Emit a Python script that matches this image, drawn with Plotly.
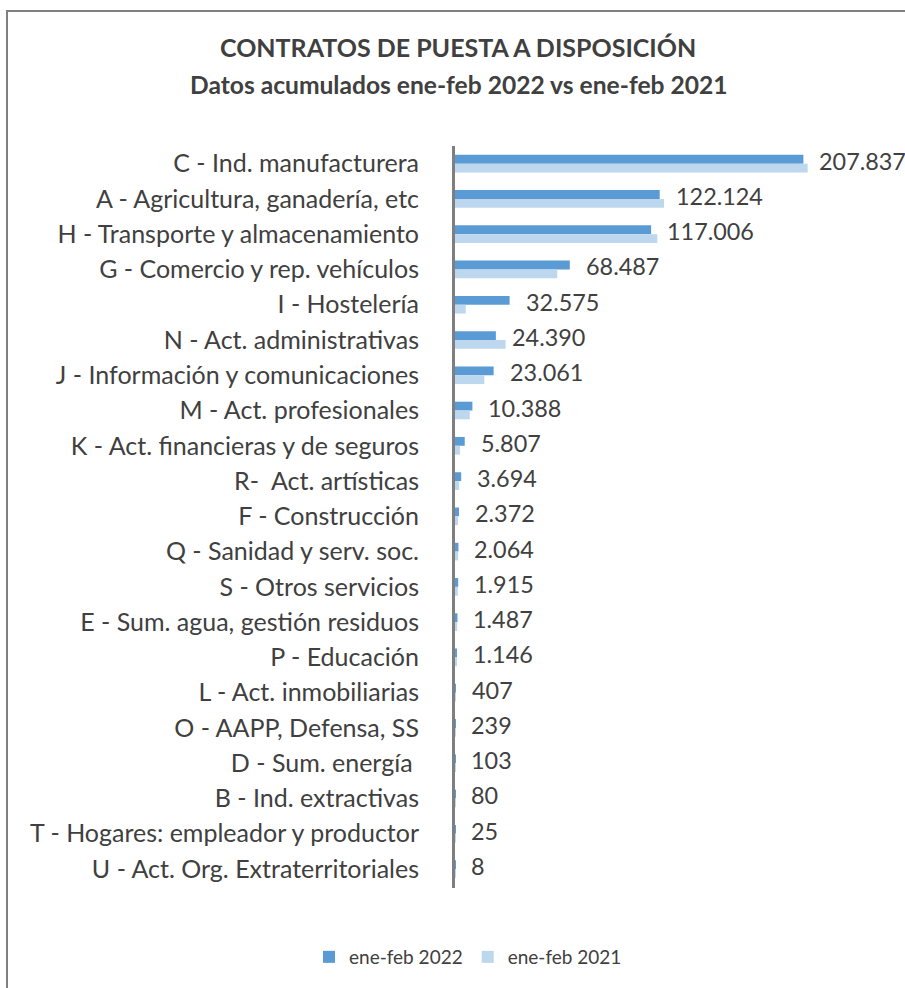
import plotly.graph_objects as go

categories = [
    "C - Ind. manufacturera",
    "A - Agricultura, ganadería, etc",
    "H - Transporte y almacenamiento",
    "G - Comercio y rep. vehículos",
    "I - Hostelería",
    "N - Act. administrativas",
    "J - Información y comunicaciones",
    "M - Act. profesionales",
    "K - Act. financieras y de seguros",
    "R-  Act. artísticas",
    "F - Construcción",
    "Q - Sanidad y serv. soc.",
    "S - Otros servicios",
    "E - Sum. agua, gestión residuos",
    "P - Educación",
    "L - Act. inmobiliarias",
    "O - AAPP, Defensa, SS",
    "D - Sum. energía ",
    "B - Ind. extractivas",
    "T - Hogares: empleador y productor",
    "U - Act. Org. Extraterritoriales",
]
values_2022 = [207837, 122124, 117006, 68487, 32575, 24390, 23061, 10388, 5807, 3694,
               2372, 2064, 1915, 1487, 1146, 407, 239, 103, 80, 25, 8]
values_2021 = [210400, 124700, 120700, 61000, 6400, 30200, 17500, 8800, 3000, 2500,
               1800, 1900, 1700, 1300, 900, 300, 200, 90, 70, 30, 5]

series_names = ["ene-feb 2022", "ene-feb 2021"]
colors = ["#5B9BD5", "#BDD7EE"]
FONT = "Lato"
TXT = "#404040"

fig = go.Figure()
fig.add_trace(go.Bar(y=categories, x=values_2022, orientation="h", name=series_names[0],
                     marker=dict(color=colors[0], line=dict(width=0))))
fig.add_trace(go.Bar(y=categories, x=values_2021, orientation="h", name=series_names[1],
                     marker=dict(color=colors[1], line=dict(width=0))))

def fmt(v):
    return f"{v:,}".replace(",", ".")

for c, v in zip(categories, values_2022):
    fig.add_annotation(x=v, y=c, xref="x", yref="y", text=fmt(v), showarrow=False,
                       xanchor="left", yanchor="middle", xshift=14, yshift=3,
                       font=dict(family=FONT, size=23.4, color=TXT))

W, H = 905, 988
L, R, T, B = 455, 10, 146, 100
pw, ph = W - L - R, H - T - B

def px_x(p):
    return (p - L) / pw

def px_y(p):
    return (H - B - p) / ph

fig.add_annotation(x=px_x(458), y=px_y(47), xref="paper", yref="paper",
                   text="<b>CONTRATOS DE PUESTA A DISPOSICIÓN</b>", showarrow=False,
                   xanchor="center", yanchor="middle",
                   font=dict(family=FONT, size=25, color=TXT))
fig.add_annotation(x=px_x(459), y=px_y(84), xref="paper", yref="paper",
                   text="<b>Datos acumulados ene-feb 2022 vs ene-feb 2021</b>", showarrow=False,
                   xanchor="center", yanchor="middle",
                   font=dict(family=FONT, size=24.6, color=TXT))

fig.add_shape(type="rect", xref="paper", yref="paper",
              x0=px_x(7), x1=px_x(960), y0=px_y(1040), y1=px_y(11),
              line=dict(color="#7F7F7F", width=2), fillcolor="rgba(0,0,0,0)", layer="below")

fig.update_layout(
    width=W, height=H,
    margin=dict(l=L, r=R, t=T, b=B, autoexpand=False),
    paper_bgcolor="white", plot_bgcolor="white",
    barmode="group", bargap=0.5, bargroupgap=0,
    font=dict(family=FONT, size=25, color=TXT),
    showlegend=True,
    legend=dict(orientation="h", x=px_x(468), y=px_y(957), xanchor="center", yanchor="middle",
                font=dict(family=FONT, size=19, color=TXT), traceorder="normal",
                itemwidth=30),
)
fig.update_xaxes(range=[0, 262500], visible=False, showgrid=False, zeroline=False, fixedrange=True)
fig.update_yaxes(autorange="reversed", showgrid=False, zeroline=False, showline=True,
                 linecolor="#7F7F7F", linewidth=3, ticks="", ticklabelstandoff=28,
                 tickfont=dict(family=FONT, size=25, color=TXT))

fig.write_html("out.html", config={"displayModeBar": False},
               post_script="document.body.style.margin='0';document.body.style.overflow='hidden';")
